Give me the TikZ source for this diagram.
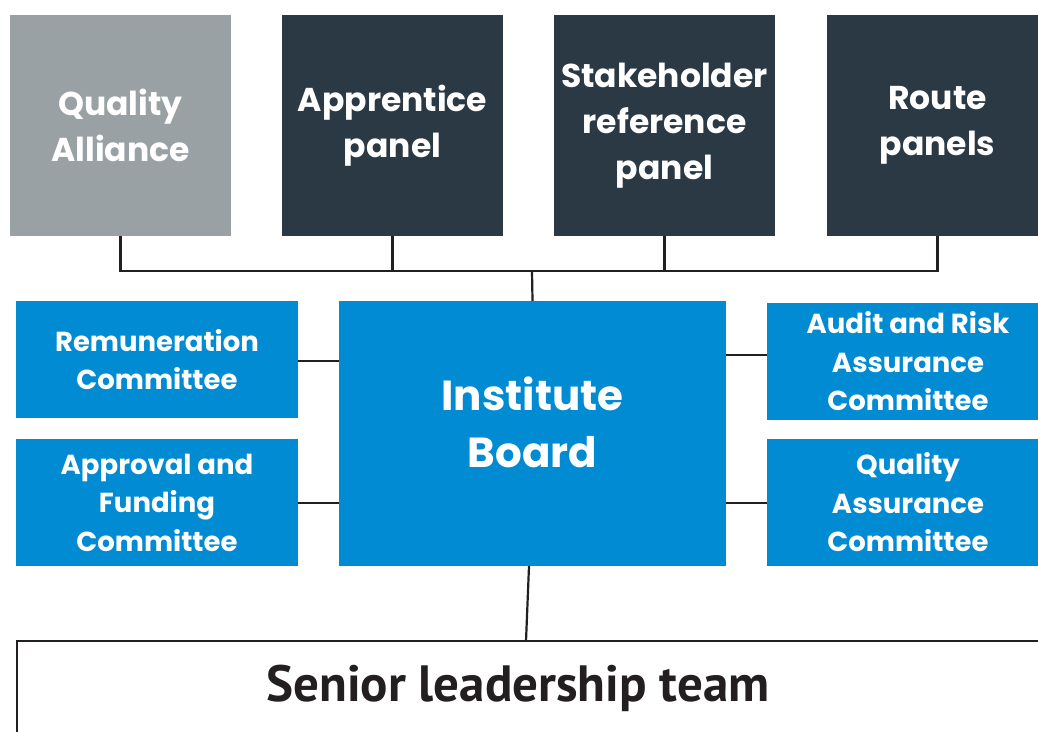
\documentclass[tikz,border=0pt]{standalone}
\usepackage{fontspec}
\setmainfont{Poppins}
\newfontfamily\sltfont{PT Sans}
\definecolor{cblue}{HTML}{008BD2}
\definecolor{cdark}{HTML}{2B3944}
\definecolor{cgrey}{HTML}{99A1A4}
\definecolor{cline}{HTML}{231F20}
\begin{document}
\begin{tikzpicture}[x=1pt,y=-1pt,
  top/.style={minimum width=221pt,minimum height=221pt,inner sep=0pt,align=center,text=white,font=\fontsize{33}{46}\selectfont\bfseries},
  com/.style={minimum width=282pt,inner sep=0pt,align=center,text=white,fill=cblue,font=\fontsize{27.5}{38.5}\selectfont\bfseries},
  conn/.style={draw=cline,line width=2.2pt},
]
\useasboundingbox (0,0) rectangle (1038,731);
\begin{scope}
\clip (0,0) rectangle (1038,731);
\node[top,fill=cgrey] (qa) at (120.5,125.5) {Quality\\Alliance};
\node[top,fill=cdark] (ap) at (392.5,125.5) {Apprentice\\panel};
\node[top,fill=cdark] (sr) at (664.5,125.5) {Stakeholder\\reference\\panel};
\node[top,fill=cdark] (rp) at (937.5,125.5) {Route\\panels};
\node[com,minimum height=117pt] (rem) at (157,359.5) {Remuneration\\Committee};
\node[com,minimum height=127pt] (afc) at (157,502.5) {Approval and\\Funding\\Committee};
\node[minimum width=387pt,minimum height=265pt,inner sep=0pt,fill=cblue] (board) at (532.5,433.5) {};
\node[align=center,text=white,inner sep=0pt,font=\fontsize{42}{57}\selectfont\bfseries] (boardtxt) at ([yshift=11pt]board.center) {Institute\\Board};
\node[com,minimum height=117pt] (arac) at (908,361.5) {Audit and Risk\\Assurance\\Committee};
\node[com,minimum height=127pt] (qac) at (908,502.5) {Quality\\Assurance\\Committee};
\coordinate (bus) at (532,271);
\draw[conn] (qa.south) |- (rp.south |- bus) -- (rp.south);
\draw[conn] (ap.south) -- (ap.south |- bus);
\draw[conn] (sr.south) -- (sr.south |- bus);
\draw[conn] (bus) -- (board.north);
\draw[conn] (rem.east |- 0,361) -- (board.west |- 0,361);
\draw[conn] (afc.east |- 0,503) -- (board.west |- 0,503);
\draw[conn] (board.east |- 0,355) -- (arac.west |- 0,355);
\draw[conn] (board.east |- 0,503) -- (qac.west |- 0,503);
\coordinate (slttop) at (526,641);
\draw[conn] ([xshift=-3.5pt]board.south) -- (slttop);
\draw[draw=cline,line width=2.5pt] (17,760) |- (1060,641);
\node[font=\sltfont\fontsize{51}{55}\selectfont\bfseries,text=cline] (slt) at (518,688) {Senior leadership team};
\end{scope}
\end{tikzpicture}
\end{document}
